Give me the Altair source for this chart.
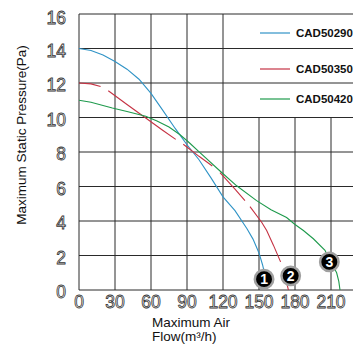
import altair as alt
import pandas as pd

series = ["CAD50290", "CAD50350", "CAD50420"]
colors = ["#2f93c6", "#c53243", "#1e9a4c"]

blue_x = [0, 10, 20, 30, 40, 50, 60, 70, 80, 90, 100, 110, 120, 130, 140, 145, 150, 153, 155]
blue_p = [14.0, 13.88, 13.62, 13.25, 12.8, 12.22, 11.4, 10.4, 9.38, 8.42, 7.55, 6.5, 5.4, 4.6, 3.55, 2.95, 2.15, 1.45, 0.85]

red_x = [0, 10, 18, 24.4, 40, 55.6, 70, 80.6, 86.9, 100, 111.1, 117.5, 130, 138.3,
         142.5, 152.2, 156.4, 162, 168, 173.5, 174.5]
red_p = [12.0, 11.95, 11.8, 11.55, 10.75, 9.97, 9.25, 8.73, 8.45, 7.75, 7.19, 6.81, 5.85, 5.18,
         4.83, 3.93, 3.45, 2.6, 1.63, 0.3, 0.0]
red_seg = [0, 0, 0, 1, 1, 1, 1, 1, 2, 2, 2, 3, 3, 3, 4, 4, 4, 4, 4, 5, 5]

green_x = [0, 10, 20, 27.8, 40, 55.6, 65, 75, 84.2, 91.7, 100.8, 117.5, 131.4, 148, 160, 173,
           180, 187, 195.3, 205, 209, 212, 214.7, 216.5, 217.5]
green_p = [11.0, 10.88, 10.7, 10.55, 10.35, 10.07, 9.8, 9.45, 9.0, 8.55, 7.96, 6.9, 6.04, 5.18,
           4.65, 4.2, 3.8, 3.45, 2.97, 2.3, 1.7, 1.35, 1.0, 0.5, 0.0]

marker_labels = ["1", "2", "3"]
marker_x = [154.2, 176.4, 208.6]
marker_p = [0.63, 0.82, 1.63]

x_ticks = [0, 30, 60, 90, 120, 150, 180, 210]
y_ticks = [0, 2, 4, 6, 8, 10, 12, 14, 16]

W = 274
H = 276
X_MAX = W / 1.2
Y_MAX = 16
FONT = "Liberation Sans"

xs = alt.Scale(domain=[0, X_MAX], nice=False, zero=False)
ys = alt.Scale(domain=[0, Y_MAX], nice=False, zero=False)

rows = []
for i, (xv, pv) in enumerate(zip(blue_x, blue_p)):
    rows.append({"series": series[0], "seg": "b0", "o": i, "x": xv, "p": pv})
for i, (xv, pv, s) in enumerate(zip(red_x, red_p, red_seg)):
    rows.append({"series": series[1], "seg": f"r{s}", "o": i, "x": xv, "p": pv})
for i, (xv, pv) in enumerate(zip(green_x, green_p)):
    rows.append({"series": series[2], "seg": "g0", "o": i, "x": xv, "p": pv})
curves = pd.DataFrame(rows)

hgrid = pd.DataFrame({"p": y_ticks, "x0": [0] * len(y_ticks), "x1": [X_MAX] * len(y_ticks)})
vgrid = pd.DataFrame({"x": x_ticks, "y0": [0] * len(x_ticks),
                      "y1": [Y_MAX if v <= 120 else 10 for v in x_ticks]})

h_rules = alt.Chart(hgrid).mark_rule(color="#2a2a2a", strokeWidth=1).encode(
    x=alt.X("x0:Q", scale=xs, axis=None), x2="x1:Q",
    y=alt.Y("p:Q", scale=ys, axis=None))
v_rules = alt.Chart(vgrid).mark_rule(color="#2a2a2a", strokeWidth=1).encode(
    x=alt.X("x:Q", scale=xs, axis=None),
    y=alt.Y("y0:Q", scale=ys, axis=None), y2="y1:Q")

lines = alt.Chart(curves).mark_line(strokeWidth=1.1).encode(
    x=alt.X("x:Q", scale=xs, axis=None),
    y=alt.Y("p:Q", scale=ys, axis=None),
    color=alt.Color("series:N", scale=alt.Scale(domain=series, range=colors), legend=None),
    detail="seg:N",
    order="o:Q")

mk = pd.DataFrame({"label": marker_labels, "x": marker_x, "p": marker_p})
markers = alt.Chart(mk).mark_point(shape="circle", filled=True, fill="black", stroke="#a0a0a0",
                                   strokeWidth=2.5, size=340, opacity=1, fillOpacity=1,
                                   strokeOpacity=1).encode(
    x=alt.X("x:Q", scale=xs, axis=None), y=alt.Y("p:Q", scale=ys, axis=None))
marker_text = alt.Chart(mk).mark_text(color="white", fontSize=14, fontWeight="bold", font=FONT,
                                      baseline="middle", align="center", dy=1).encode(
    x=alt.X("x:Q", scale=xs, axis=None), y=alt.Y("p:Q", scale=ys, axis=None), text="label:N")

xl = pd.DataFrame({"x": x_ticks, "label": [str(v) for v in x_ticks]})
ylab = pd.DataFrame({"p": y_ticks[:-1], "label": [str(v) for v in y_ticks[:-1]]})
ylab_top = pd.DataFrame({"p": y_ticks[-1:], "label": [str(v) for v in y_ticks[-1:]]})
label_style = dict(fontSize=17.5, font=FONT, fill="white", stroke="#333333", strokeWidth=0.8,
                   baseline="middle")
x_labels = alt.Chart(xl).mark_text(align="center", **label_style).encode(
    x=alt.X("x:Q", scale=xs, axis=None), y=alt.value(289), text="label:N")
y_labels = alt.Chart(ylab).mark_text(align="right", dy=3, **label_style).encode(
    x=alt.value(-13), y=alt.Y("p:Q", scale=ys, axis=None), text="label:N")
y_label_top = alt.Chart(ylab_top).mark_text(align="right", dy=5, **label_style).encode(
    x=alt.value(-13), y=alt.Y("p:Q", scale=ys, axis=None), text="label:N")

y_title = alt.Chart(pd.DataFrame({"t": ["Maximum Static Pressure(Pa)"]})).mark_text(
    fontSize=13.5, font=FONT, color="#111111", angle=270, baseline="middle", align="center").encode(
    x=alt.value(-57), y=alt.value(121), text="t:N")
x_title_1 = alt.Chart(pd.DataFrame({"t": ["Maximum Air"]})).mark_text(
    fontSize=13.5, font=FONT, color="#111111", baseline="middle", align="left").encode(
    x=alt.value(73), y=alt.value(309), text="t:N")
x_title_2 = alt.Chart(pd.DataFrame({"t": ["Flow(m³/h)"]})).mark_text(
    fontSize=13.5, font=FONT, color="#111111", baseline="middle", align="left").encode(
    x=alt.value(73), y=alt.value(323), text="t:N")

legend_layers = []
leg_y = [19, 55, 85]
for name, col, yy in zip(series, colors, leg_y):
    d = pd.DataFrame({"name": [name]})
    legend_layers.append(alt.Chart(d).mark_rule(color=col, strokeWidth=1.2).encode(
        x=alt.value(181), x2=alt.value(211), y=alt.value(yy)))
    legend_layers.append(alt.Chart(d).mark_text(fontSize=11.5, fontWeight="bold", font=FONT,
                                                color="#111111", align="left", baseline="middle").encode(
        x=alt.value(217), y=alt.value(yy + 1), text="name:N"))

chart = alt.layer(h_rules, v_rules, lines, markers, marker_text, x_labels, y_labels, y_label_top,
                  y_title, x_title_1, x_title_2, *legend_layers).properties(
    width=W, height=H,
    autosize=alt.AutoSizeParams(type="none"),
    padding={"left": 71, "top": 6, "right": 0, "bottom": 55},
    background="white",
).configure_view(stroke=None)

chart.save("out.html", embed_options={"renderer": "svg", "actions": False})
